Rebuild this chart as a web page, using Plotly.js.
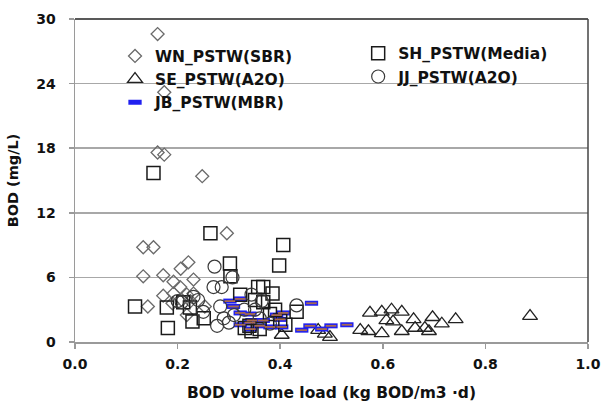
<!DOCTYPE html>
<html>
<head>
<meta charset="utf-8">
<script src="https://cdn.plot.ly/plotly-3.0.1.min.js"></script>
<style>html,body{margin:0;padding:0;background:#fff}#chart{width:602px;height:410px}</style>
</head>
<body>
<div id="chart"></div>
<script>
// WN_PSTW(SBR)
var wnX = [0.161,0.174,0.161,0.174,0.248,0.296,0.133,0.153,0.133,0.172,0.206,0.221,0.192,0.231,0.205,0.172,0.192,0.218,0.231,0.142,0.253,0.218,0.208,0.190,0.225];
var wnY = [28.6,23.2,17.6,17.4,15.4,10.1,8.8,8.8,6.1,6.2,6.8,7.4,5.6,5.8,5.1,4.3,4.5,4.4,4.5,3.3,3.3,2.5,3.9,3.6,3.8];
// SH_PSTW(Media)
var shX = [0.117,0.153,0.181,0.179,0.211,0.224,0.229,0.251,0.264,0.302,0.303,0.322,0.406,0.398,0.367,0.385,0.367,0.432,0.351,0.380,0.400,0.410,0.390,0.340,0.360,0.331,0.344,0.357];
var shY = [3.3,15.7,1.3,3.2,3.7,3.2,1.9,2.2,10.1,7.3,6.1,4.4,9.0,7.1,5.1,4.5,3.7,2.8,3.9,2.6,2.0,1.6,3.0,1.5,1.2,1.3,1.0,5.1];
// SE_PSTW(A2O)
var seX = [0.403,0.474,0.487,0.497,0.556,0.575,0.572,0.598,0.598,0.607,0.617,0.620,0.637,0.637,0.660,0.663,0.682,0.697,0.690,0.715,0.742,0.887];
var seY = [0.65,1.1,0.75,0.45,1.1,2.7,1.0,2.8,0.8,2.0,3.0,1.9,2.8,1.0,2.1,1.3,1.3,2.3,1.0,1.7,2.1,2.4];
// JJ_PSTW(A2O)
var jjX = [0.272,0.307,0.270,0.286,0.277,0.283,0.231,0.208,0.200,0.432,0.344,0.364,0.380,0.351,0.310,0.300,0.330,0.360,0.290,0.250,0.240];
var jjY = [7.0,6.0,5.1,5.1,1.5,3.3,4.2,3.7,3.8,3.4,4.4,3.8,1.7,3.0,2.5,1.8,3.0,2.2,2.2,2.8,3.9];
// JB_PSTW(MBR)
var jbX = [0.302,0.322,0.309,0.322,0.341,0.322,0.341,0.342,0.367,0.380,0.393,0.406,0.400,0.403,0.442,0.458,0.461,0.481,0.499,0.530,0.360,0.345];
var jbY = [3.8,4.0,3.3,2.7,2.6,1.6,1.8,1.2,2.0,1.4,2.5,2.7,2.1,1.4,1.1,1.5,3.6,1.2,1.5,1.6,1.5,2.0];

var xTicks = [0, 0.2, 0.4, 0.6, 0.8, 1.0];
var xTickText = ['0.0','0.2','0.4','0.6','0.8','1.0'];
var yTicks = [0, 6, 12, 18, 24, 30];

var FONT = '"DejaVu Sans", Verdana, sans-serif';
var traces = [
  {name:'WN_PSTW(SBR)', x:wnX, y:wnY, type:'scatter', mode:'markers', legend:'legend',
   marker:{symbol:'diamond-open', size:10, color:'#6a6a6a', line:{width:1.3, color:'#6a6a6a'}}},
  {name:'SE_PSTW(A2O)', x:seX, y:seY, type:'scatter', mode:'markers', legend:'legend',
   marker:{symbol:'triangle-up-open', size:13, color:'#222', line:{width:1.3, color:'#222'}}},
  {name:'JB_PSTW(MBR)', x:jbX, y:jbY, type:'scatter', mode:'markers', legend:'legend',
   marker:{symbol:'line-ew', size:9.5, color:'#2020f0', line:{width:5, color:'#2020f0'}}},
  {name:'SH_PSTW(Media)', x:shX, y:shY, type:'scatter', mode:'markers', legend:'legend2',
   marker:{symbol:'square-open', size:13, color:'#1a1a1a', line:{width:1.5, color:'#1a1a1a'}}},
  {name:'JJ_PSTW(A2O)', x:jjX, y:jjY, type:'scatter', mode:'markers', legend:'legend2',
   marker:{symbol:'circle-open', size:13, color:'#3a3a3a', line:{width:1.2, color:'#3a3a3a'}}},
  {name:'JB_PSTW(MBR)', x:jbX, y:jbY, type:'scatter', mode:'markers', showlegend:false, hoverinfo:'skip',
   marker:{symbol:'line-ew', size:7.5, color:'#a86a50', line:{width:1.8, color:'#a86a50'}}}
];

var legendFont = {family:FONT, size:15.5, color:'#111', weight:'bold'};
var layout = {
  width:602, height:410,
  margin:{l:75, r:14, t:19, b:68},
  paper_bgcolor:'#fff', plot_bgcolor:'#fff',
  font:{family:FONT, color:'#111'},
  xaxis:{range:[0,1], tickvals:xTicks, ticktext:xTickText, showgrid:false, zeroline:false,
    showline:true, linecolor:'#9a9a9a', linewidth:1.5, ticks:'outside', ticklen:5, tickcolor:'#9a9a9a', tickwidth:1.5,
    ticklabelstandoff:4,
    tickfont:{family:FONT, size:14, color:'#111', weight:'bold'},
    title:{text:'BOD volume load (kg BOD/m3 ·d)', font:{family:FONT, size:15.5, color:'#111', weight:'bold'}, standoff:16}},
  yaxis:{range:[0,30], tickvals:yTicks, showgrid:true, gridcolor:'#a8a8a8', gridwidth:1.5, zeroline:false,
    showline:true, linecolor:'#9a9a9a', linewidth:1.5, ticks:'outside', ticklen:5, tickcolor:'#9a9a9a', tickwidth:1.5,
    ticklabelstandoff:10,
    tickfont:{family:FONT, size:14, color:'#111', weight:'bold'},
    title:{text:'BOD (mg/L)', font:{family:FONT, size:14.5, color:'#111', weight:'bold'}, standoff:14}},
  legend:{x:0.078, y:0.937, xanchor:'left', yanchor:'top', bgcolor:'rgba(0,0,0,0)', font:legendFont, tracegroupgap:0},
  legend2:{x:0.552, y:0.945, xanchor:'left', yanchor:'top', bgcolor:'rgba(0,0,0,0)', font:legendFont, tracegroupgap:0},
  shapes:[
    {type:'line', xref:'paper', yref:'paper', x0:0, x1:1, y0:1, y1:1, line:{color:'#222', width:1.5}},
    {type:'line', xref:'paper', yref:'paper', x0:1, x1:1, y0:0, y1:1, line:{color:'#444', width:1.5}}
  ],
  showlegend:true
};
Plotly.newPlot('chart', traces, layout, {displayModeBar:false, staticPlot:true});
</script>
</body>
</html>
